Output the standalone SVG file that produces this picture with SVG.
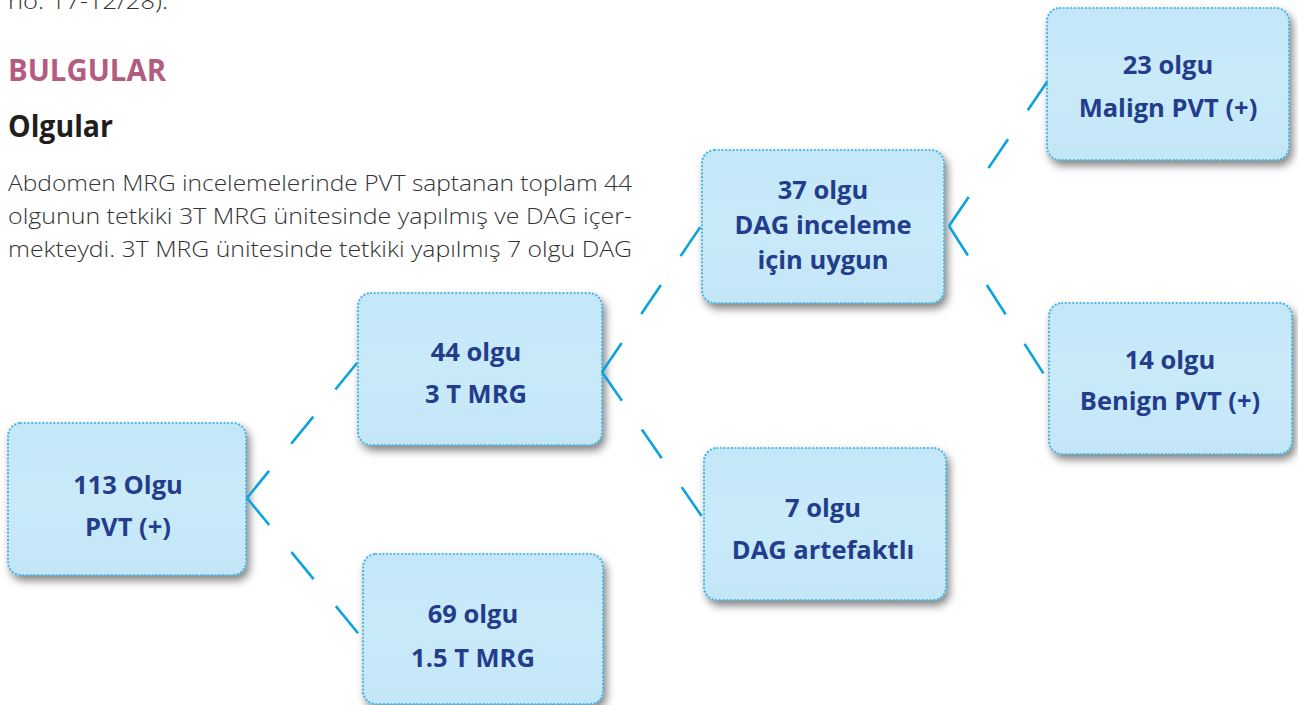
<svg xmlns="http://www.w3.org/2000/svg" width="1298" height="705" viewBox="0 0 1298 705">
<defs>
<filter id="sh" x="-10%" y="-10%" width="130%" height="135%">
<feDropShadow dx="3" dy="5" stdDeviation="4" flood-color="#000" flood-opacity="0.5"/>
</filter>
<linearGradient id="bg" x1="0" y1="0" x2="0" y2="1">
<stop offset="0" stop-color="#c3e7f8"/>
<stop offset="0.5" stop-color="#c9eaf9"/>
<stop offset="1" stop-color="#c3e6f7"/>
</linearGradient>
</defs>
<style>
.box{fill:url(#bg);stroke:#45b5e5;stroke-width:2.2;stroke-dasharray:0.1 3.6;stroke-linecap:round;filter:url(#sh)}
.lbl{font-family:"Open Sans","Noto Sans",sans-serif;font-weight:700;font-size:25.5px;fill:#233d8c;text-anchor:middle}
.con{fill:none;stroke:#0aa3dd;stroke-width:2.6;stroke-dasharray:35 35}
.body{font-family:"Open Sans","Noto Sans",sans-serif;font-weight:300;font-size:22px;fill:#333333}
.head{font-family:"Open Sans","Noto Sans",sans-serif;font-weight:700;font-size:30px}
</style>
<rect width="1298" height="705" fill="#ffffff"/>
<g id="text">
<text class="body" x="8" y="9" textLength="160" lengthAdjust="spacingAndGlyphs">no. 17-12/28).</text>
<text class="head" x="8" y="81" fill="#b35c80" textLength="158" lengthAdjust="spacingAndGlyphs">BULGULAR</text>
<text class="head" x="8" y="137" fill="#1e1e1e" textLength="105" lengthAdjust="spacingAndGlyphs">Olgular</text>
<text class="body" x="8" y="191" textLength="624" lengthAdjust="spacingAndGlyphs">Abdomen MRG incelemelerinde PVT saptanan toplam 44</text>
<text class="body" x="8" y="224" textLength="624" lengthAdjust="spacingAndGlyphs">olgunun tetkiki 3T MRG ünitesinde yapılmış ve DAG içer-</text>
<text class="body" x="8" y="257" textLength="624" lengthAdjust="spacingAndGlyphs">mekteydi. 3T MRG ünitesinde tetkiki yapılmış 7 olgu DAG</text>
</g>
<g id="n1"><rect class="box" x="8" y="423" width="238" height="152" rx="13"/>
<text class="lbl" x="128" y="494">113 Olgu</text><text class="lbl" x="128" y="536">PVT (+)</text></g>
<g id="n2"><rect class="box" x="358" y="293" width="244" height="152" rx="13"/>
<text class="lbl" x="476" y="361">44 olgu</text><text class="lbl" x="476" y="403">3 T MRG</text></g>
<g id="n3"><rect class="box" x="702" y="150" width="242" height="153" rx="13"/>
<text class="lbl" x="823" y="199">37 olgu</text><text class="lbl" x="823" y="234">DAG inceleme</text><text class="lbl" x="823" y="269">için uygun</text></g>
<g id="n4"><rect class="box" x="704" y="448" width="242" height="152" rx="13"/>
<text class="lbl" x="823" y="517">7 olgu</text><text class="lbl" x="823" y="559">DAG artefaktlı</text></g>
<g id="n5"><rect class="box" x="363" y="554" width="240" height="150" rx="13"/>
<text class="lbl" x="473" y="623">69 olgu</text><text class="lbl" x="473" y="667">1.5 T MRG</text></g>
<g id="n6"><rect class="box" x="1047" y="8" width="242" height="152" rx="13"/>
<text class="lbl" x="1168" y="74">23 olgu</text><text class="lbl" x="1168" y="117">Malign PVT (+)</text></g>
<g id="n7"><rect class="box" x="1049" y="303" width="243" height="151" rx="13"/>
<text class="lbl" x="1170" y="369">14 olgu</text><text class="lbl" x="1170" y="410">Benign PVT (+)</text></g>
<g id="connectors">
<path class="con" d="M247 498 L357 363"/>
<path class="con" d="M247 498 L362 638"/>
<path class="con" d="M602 372 L703 223"/>
<path class="con" d="M602 372 L703 518"/>
<path class="con" d="M949 226 L1047 82"/>
<path class="con" d="M949 226 L1049 382"/>
</g>
</svg>
